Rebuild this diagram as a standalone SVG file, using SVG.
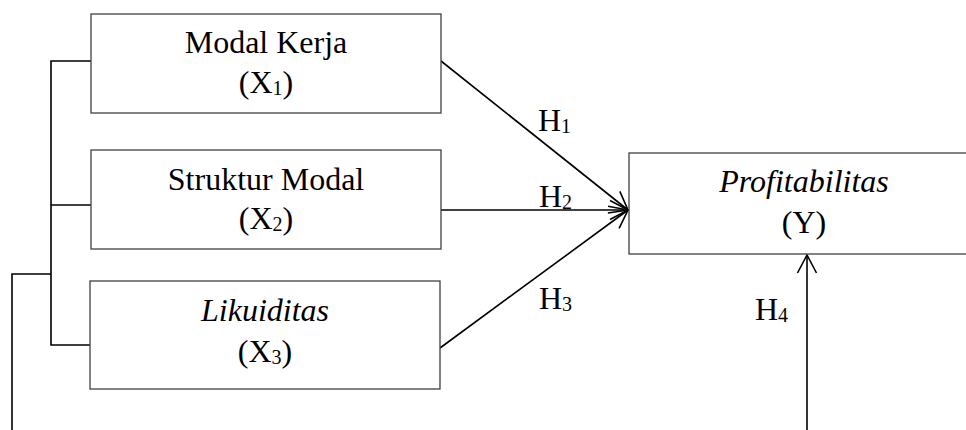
<svg xmlns="http://www.w3.org/2000/svg" width="966" height="430" viewBox="0 0 966 430">
<defs>
<style>
.box{fill:#fff;stroke:#404040;stroke-width:1.3}
.t{font-family:"Liberation Serif","Times New Roman",serif;font-size:32px;fill:#000;text-anchor:middle}
.l{font-family:"Liberation Serif","Times New Roman",serif;font-size:32px;fill:#000}
.sub{font-size:20px}
.i{font-style:italic}
.c{fill:none;stroke:#000;stroke-width:1.6}
</style>
<marker id="ah" markerUnits="userSpaceOnUse" markerWidth="24" markerHeight="24" viewBox="-20 -12 24 24" refX="0" refY="0" orient="auto">
<path d="M-18,-9.5 L0,0 L-18,9.5" fill="none" stroke="#000" stroke-width="1.6"/>
</marker>
</defs>
<rect width="966" height="430" fill="#fff"/>
<g id="connectors">
<polyline class="c" points="91,61 51,61 51,345 91,345"/>
<line class="c" x1="51" y1="205" x2="91" y2="205"/>
<polyline class="c" points="12,430 12,274 51,274"/>
<line class="c" x1="441" y1="61" x2="628" y2="210" marker-end="url(#ah)"/>
<line class="c" x1="441" y1="210" x2="628" y2="210" marker-end="url(#ah)"/>
<line class="c" x1="440" y1="348" x2="628" y2="210" marker-end="url(#ah)"/>
<line class="c" x1="807" y1="430" x2="807" y2="255" marker-end="url(#ah)"/>
<text class="l" x="538" y="131">H<tspan class="sub" dy="2">1</tspan></text>
<text class="l" x="539" y="207">H<tspan class="sub" dy="2">2</tspan></text>
<text class="l" x="539" y="309">H<tspan class="sub" dy="2">3</tspan></text>
<text class="l" x="755" y="320">H<tspan class="sub" dy="2">4</tspan></text>
</g>
<g id="x1">
<rect class="box" x="91" y="14" width="350" height="99"/>
<text class="t" x="266" y="53">Modal Kerja</text>
<text class="t" x="266" y="93">(X<tspan class="sub" dy="2">1</tspan><tspan dy="-2">)</tspan></text>
</g>
<g id="x2">
<rect class="box" x="91" y="150" width="350" height="99"/>
<text class="t" x="266" y="190">Struktur Modal</text>
<text class="t" x="266" y="229">(X<tspan class="sub" dy="2">2</tspan><tspan dy="-2">)</tspan></text>
</g>
<g id="x3">
<rect class="box" x="90" y="281" width="350" height="108"/>
<text class="t i" x="265" y="321">Likuiditas</text>
<text class="t" x="265" y="362">(X<tspan class="sub" dy="2">3</tspan><tspan dy="-2">)</tspan></text>
</g>
<g id="y">
<rect class="box" x="629" y="153" width="350" height="101"/>
<text class="t i" x="804" y="192">Profitabilitas</text>
<text class="t" x="804" y="233">(Y)</text>
</g>
</svg>
